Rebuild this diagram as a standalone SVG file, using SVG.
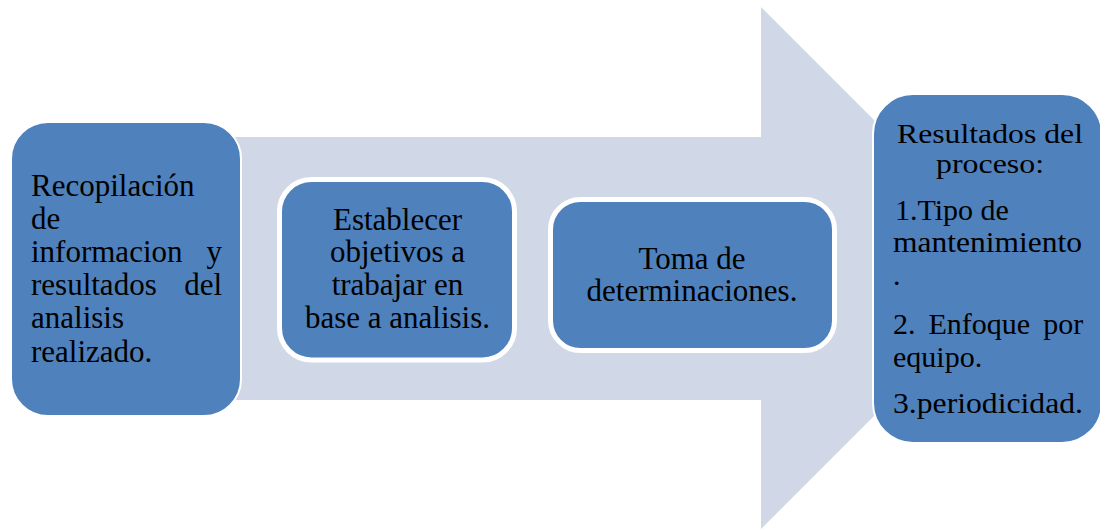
<svg xmlns="http://www.w3.org/2000/svg" width="1100" height="530" viewBox="0 0 1100 530">
  <style>
    .box { fill: #4F81BD; stroke: #FFFFFF; }
    .thin { stroke-width: 2; }
    .thick { stroke-width: 5; }
    text { font-family: "Liberation Serif", "Times New Roman", serif; fill: #000000; }
    .f31 { font-size: 31px; }
    .f30 { font-size: 30px; }
    .f27 { font-size: 27px; }
    .c { text-anchor: middle; }
    .e { text-anchor: end; }
  </style>
  <g id="arrow-background">
    <polygon points="200,137 761,137 761,7 1022,268 761,529 761,400 200,400" fill="#D0D8E8"/>
  </g>
  <g id="connectors"></g>
  <g id="node-recopilacion">
    <rect class="box thin" x="11" y="122" width="230" height="294" rx="37" ry="37"/>
    <text class="f31" x="31" y="196">Recopilación</text>
    <text class="f31" x="31" y="229">de</text>
    <text class="f31" x="31" y="262">informacion</text>
    <text class="f31 e" x="222" y="262">y</text>
    <text class="f31" x="31" y="295">resultados</text>
    <text class="f31 e" x="222" y="295">del</text>
    <text class="f31" x="31" y="328">analisis</text>
    <text class="f31" x="31" y="362">realizado.</text>
  </g>
  <g id="node-establecer">
    <rect class="box thick" x="279.5" y="179.5" width="235" height="180.5" rx="32" ry="32"/>
    <text class="f31 c" x="397.5" y="230">Establecer</text>
    <text class="f31 c" x="397.5" y="262">objetivos a</text>
    <text class="f31 c" x="397.5" y="295">trabajar en</text>
    <text class="f31 c" x="397.5" y="328">base a analisis.</text>
  </g>
  <g id="node-toma">
    <rect class="box thick" x="550.5" y="199.5" width="284" height="151" rx="30" ry="30"/>
    <text class="f31 c" x="692" y="269">Toma de</text>
    <text class="f31 c" x="692" y="301">determinaciones.</text>
  </g>
  <g id="node-resultados">
    <rect class="box thin" x="873" y="94" width="229" height="349" rx="40" ry="40"/>
    <text class="f27 c" x="990" y="143" textLength="186" lengthAdjust="spacingAndGlyphs">Resultados del</text>
    <text class="f27 c" x="990" y="173" textLength="108" lengthAdjust="spacingAndGlyphs">proceso:</text>
    <text class="f30" x="895" y="220">1.Tipo de</text>
    <text class="f30" x="893" y="252" textLength="189" lengthAdjust="spacingAndGlyphs">mantenimiento</text>
    <text class="f30" x="893" y="285">.</text>
    <text class="f30" x="893" y="334" word-spacing="5.5">2. Enfoque por</text>
    <text class="f30" x="893" y="367">equipo.</text>
    <text class="f30" x="893" y="413" textLength="190" lengthAdjust="spacingAndGlyphs">3.periodicidad.</text>
  </g>
</svg>
